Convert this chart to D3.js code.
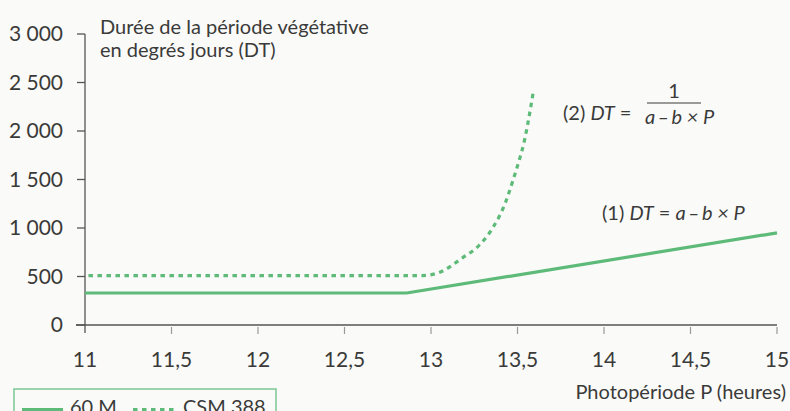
<!DOCTYPE html>
<html>
<head>
<meta charset="utf-8">
<script src="https://cdn.jsdelivr.net/npm/d3@7"></script>
<style>
  body { margin: 0; background: #fafaf8; }
  svg { display: block; font-family: Lato, 'Open Sans', sans-serif; }
  .tickLabel { fill: #3a3a3a; font-size: 21px; }
  .note { fill: #3a3a3a; font-size: 20px; }
</style>
</head>
<body>
<svg id="chart" width="790" height="411"></svg>
<script>
// photoperiod (hours) vs duration of vegetative period (degree days)
const xTicks = [11, 11.5, 12, 12.5, 13, 13.5, 14, 14.5, 15];
const yTicks = [0, 500, 1000, 1500, 2000, 2500, 3000];

const series60M = [
  { p: 11, dt: 330 },
  { p: 12.86, dt: 330 },
  { p: 15, dt: 950 }
];

const seriesCSM388 = [
  { p: 11.02, dt: 510 },
  { p: 12.95, dt: 510 },
  { p: 13.04, dt: 536 },
  { p: 13.18, dt: 690 },
  { p: 13.28, dt: 825 },
  { p: 13.36, dt: 1010 },
  { p: 13.43, dt: 1260 },
  { p: 13.47, dt: 1470 },
  { p: 13.51, dt: 1700 },
  { p: 13.54, dt: 1900 },
  { p: 13.56, dt: 2080 },
  { p: 13.59, dt: 2390 }
];

const legendNames = ['60 M', 'CSM 388'];

const green = '#5dba78';
const textColor = '#3a3a3a';

const svg = d3.select('#chart');

const xScale = d3.scaleLinear().domain([11, 15]).range([85, 777]);
const yScale = d3.scaleLinear().domain([0, 3000]).range([325, 34]);

const fmt = (v) => d3.format(',')(v).replace(/,/g, ' ').replace('.', ',');

// y axis
const yGroup = svg.append('g').attr('transform', `translate(${xScale(11)},0)`);
yGroup
  .append('line')
  .attr('x1', 0)
  .attr('x2', 0)
  .attr('y1', yScale(3000))
  .attr('y2', yScale(0) + 8)
  .attr('stroke', '#555')
  .attr('stroke-width', 1.3);
yGroup
  .selectAll('line.yTick')
  .data(yTicks)
  .enter()
  .append('line')
  .attr('class', 'yTick')
  .attr('x1', (d) => (d === 0 ? -9 : -8))
  .attr('x2', 0)
  .attr('y1', (d) => yScale(d))
  .attr('y2', (d) => yScale(d))
  .attr('stroke', '#555')
  .attr('stroke-width', 1.3);
yGroup
  .selectAll('text')
  .data(yTicks)
  .enter()
  .append('text')
  .attr('class', 'tickLabel')
  .attr('x', -22)
  .attr('y', (d) => yScale(d))
  .attr('dy', '0.35em')
  .attr('text-anchor', 'end')
  .text((d) => fmt(d));

// x axis
const xGroup = svg.append('g').attr('transform', `translate(0,${yScale(0)})`);
xGroup
  .append('line')
  .attr('x1', xScale(11) - 9)
  .attr('x2', xScale(15))
  .attr('y1', 0)
  .attr('y2', 0)
  .attr('stroke', '#555')
  .attr('stroke-width', 1.3);
xGroup
  .selectAll('line.xTick')
  .data(xTicks.slice(1))
  .enter()
  .append('line')
  .attr('class', 'xTick')
  .attr('x1', (d) => xScale(d))
  .attr('x2', (d) => xScale(d))
  .attr('y1', 2)
  .attr('y2', 9)
  .attr('stroke', '#999')
  .attr('stroke-width', 1.2);
xGroup
  .selectAll('text')
  .data(xTicks)
  .enter()
  .append('text')
  .attr('class', 'tickLabel')
  .attr('x', (d) => xScale(d))
  .attr('y', 42)
  .attr('text-anchor', 'middle')
  .text((d) => fmt(d));

// lines
const line = d3
  .line()
  .x((d) => xScale(d.p))
  .y((d) => yScale(d.dt));

svg
  .append('path')
  .datum(series60M)
  .attr('d', line)
  .attr('fill', 'none')
  .attr('stroke', green)
  .attr('stroke-width', 3.2);

svg
  .append('path')
  .datum(seriesCSM388)
  .attr('d', line.curve(d3.curveMonotoneX))
  .attr('fill', 'none')
  .attr('stroke', green)
  .attr('stroke-width', 3.2)
  .attr('stroke-dasharray', '4.5 4.5');

// titles and formulas
const title = svg.append('text').attr('class', 'note').attr('x', 100).attr('y', 34);
title.append('tspan').attr('x', 100).text('Durée de la période végétative');
title.append('tspan').attr('x', 100).attr('dy', 23).text('en degrés jours (DT)');

const f2 = svg.append('text').attr('class', 'note').attr('x', 563).attr('y', 120).attr('font-size', '21px');
f2.append('tspan').text('(2) ');
f2.append('tspan').attr('font-style', 'italic').text('DT');
f2.append('tspan').text(' =');
svg
  .append('text')
  .attr('class', 'note')
  .attr('x', 674)
  .attr('y', 98)
  .attr('font-size', '21px')
  .attr('text-anchor', 'middle')
  .text('1');
svg
  .append('line')
  .attr('x1', 647)
  .attr('x2', 701)
  .attr('y1', 103)
  .attr('y2', 103)
  .attr('stroke', textColor)
  .attr('stroke-width', 1.2);
svg
  .append('text')
  .attr('class', 'note')
  .attr('x', 645)
  .attr('y', 124)
  .attr('font-size', '21px')
  .attr('font-style', 'italic')
  .text('a\u2009\u2013\u2009b × P');

const f1 = svg.append('text').attr('class', 'note').attr('x', 602).attr('y', 220).attr('font-size', '21px');
f1.append('tspan').text('(1) ');
f1.append('tspan').attr('font-style', 'italic').text('DT');
f1.append('tspan').text(' =  ');
f1.append('tspan').attr('font-style', 'italic').text('a\u2009\u2013\u2009b × P');

svg
  .append('text')
  .attr('class', 'note')
  .attr('x', 786)
  .attr('y', 399)
  .attr('font-size', '21px')
  .attr('text-anchor', 'end')
  .text('Photopériode P (heures)');

// legend
const legend = svg.append('g');
legend
  .append('rect')
  .attr('x', 14)
  .attr('y', 389)
  .attr('width', 262)
  .attr('height', 40)
  .attr('fill', 'none')
  .attr('stroke', '#7cc693')
  .attr('stroke-width', 1.5);
const legendItems = [
  { x: 22, tx: 70, dash: null },
  { x: 133, tx: 183, dash: '4.5 4.5' }
];
legendItems.forEach((item, i) => {
  legend
    .append('line')
    .attr('x1', item.x)
    .attr('x2', item.x + 41)
    .attr('y1', 410)
    .attr('y2', 410)
    .attr('stroke', green)
    .attr('stroke-width', 4)
    .attr('stroke-dasharray', item.dash);
  legend
    .append('text')
    .attr('class', 'note')
    .attr('x', item.tx)
    .attr('y', 414)
    .attr('font-size', '21px')
    .text(legendNames[i]);
});
</script>
</body>
</html>
